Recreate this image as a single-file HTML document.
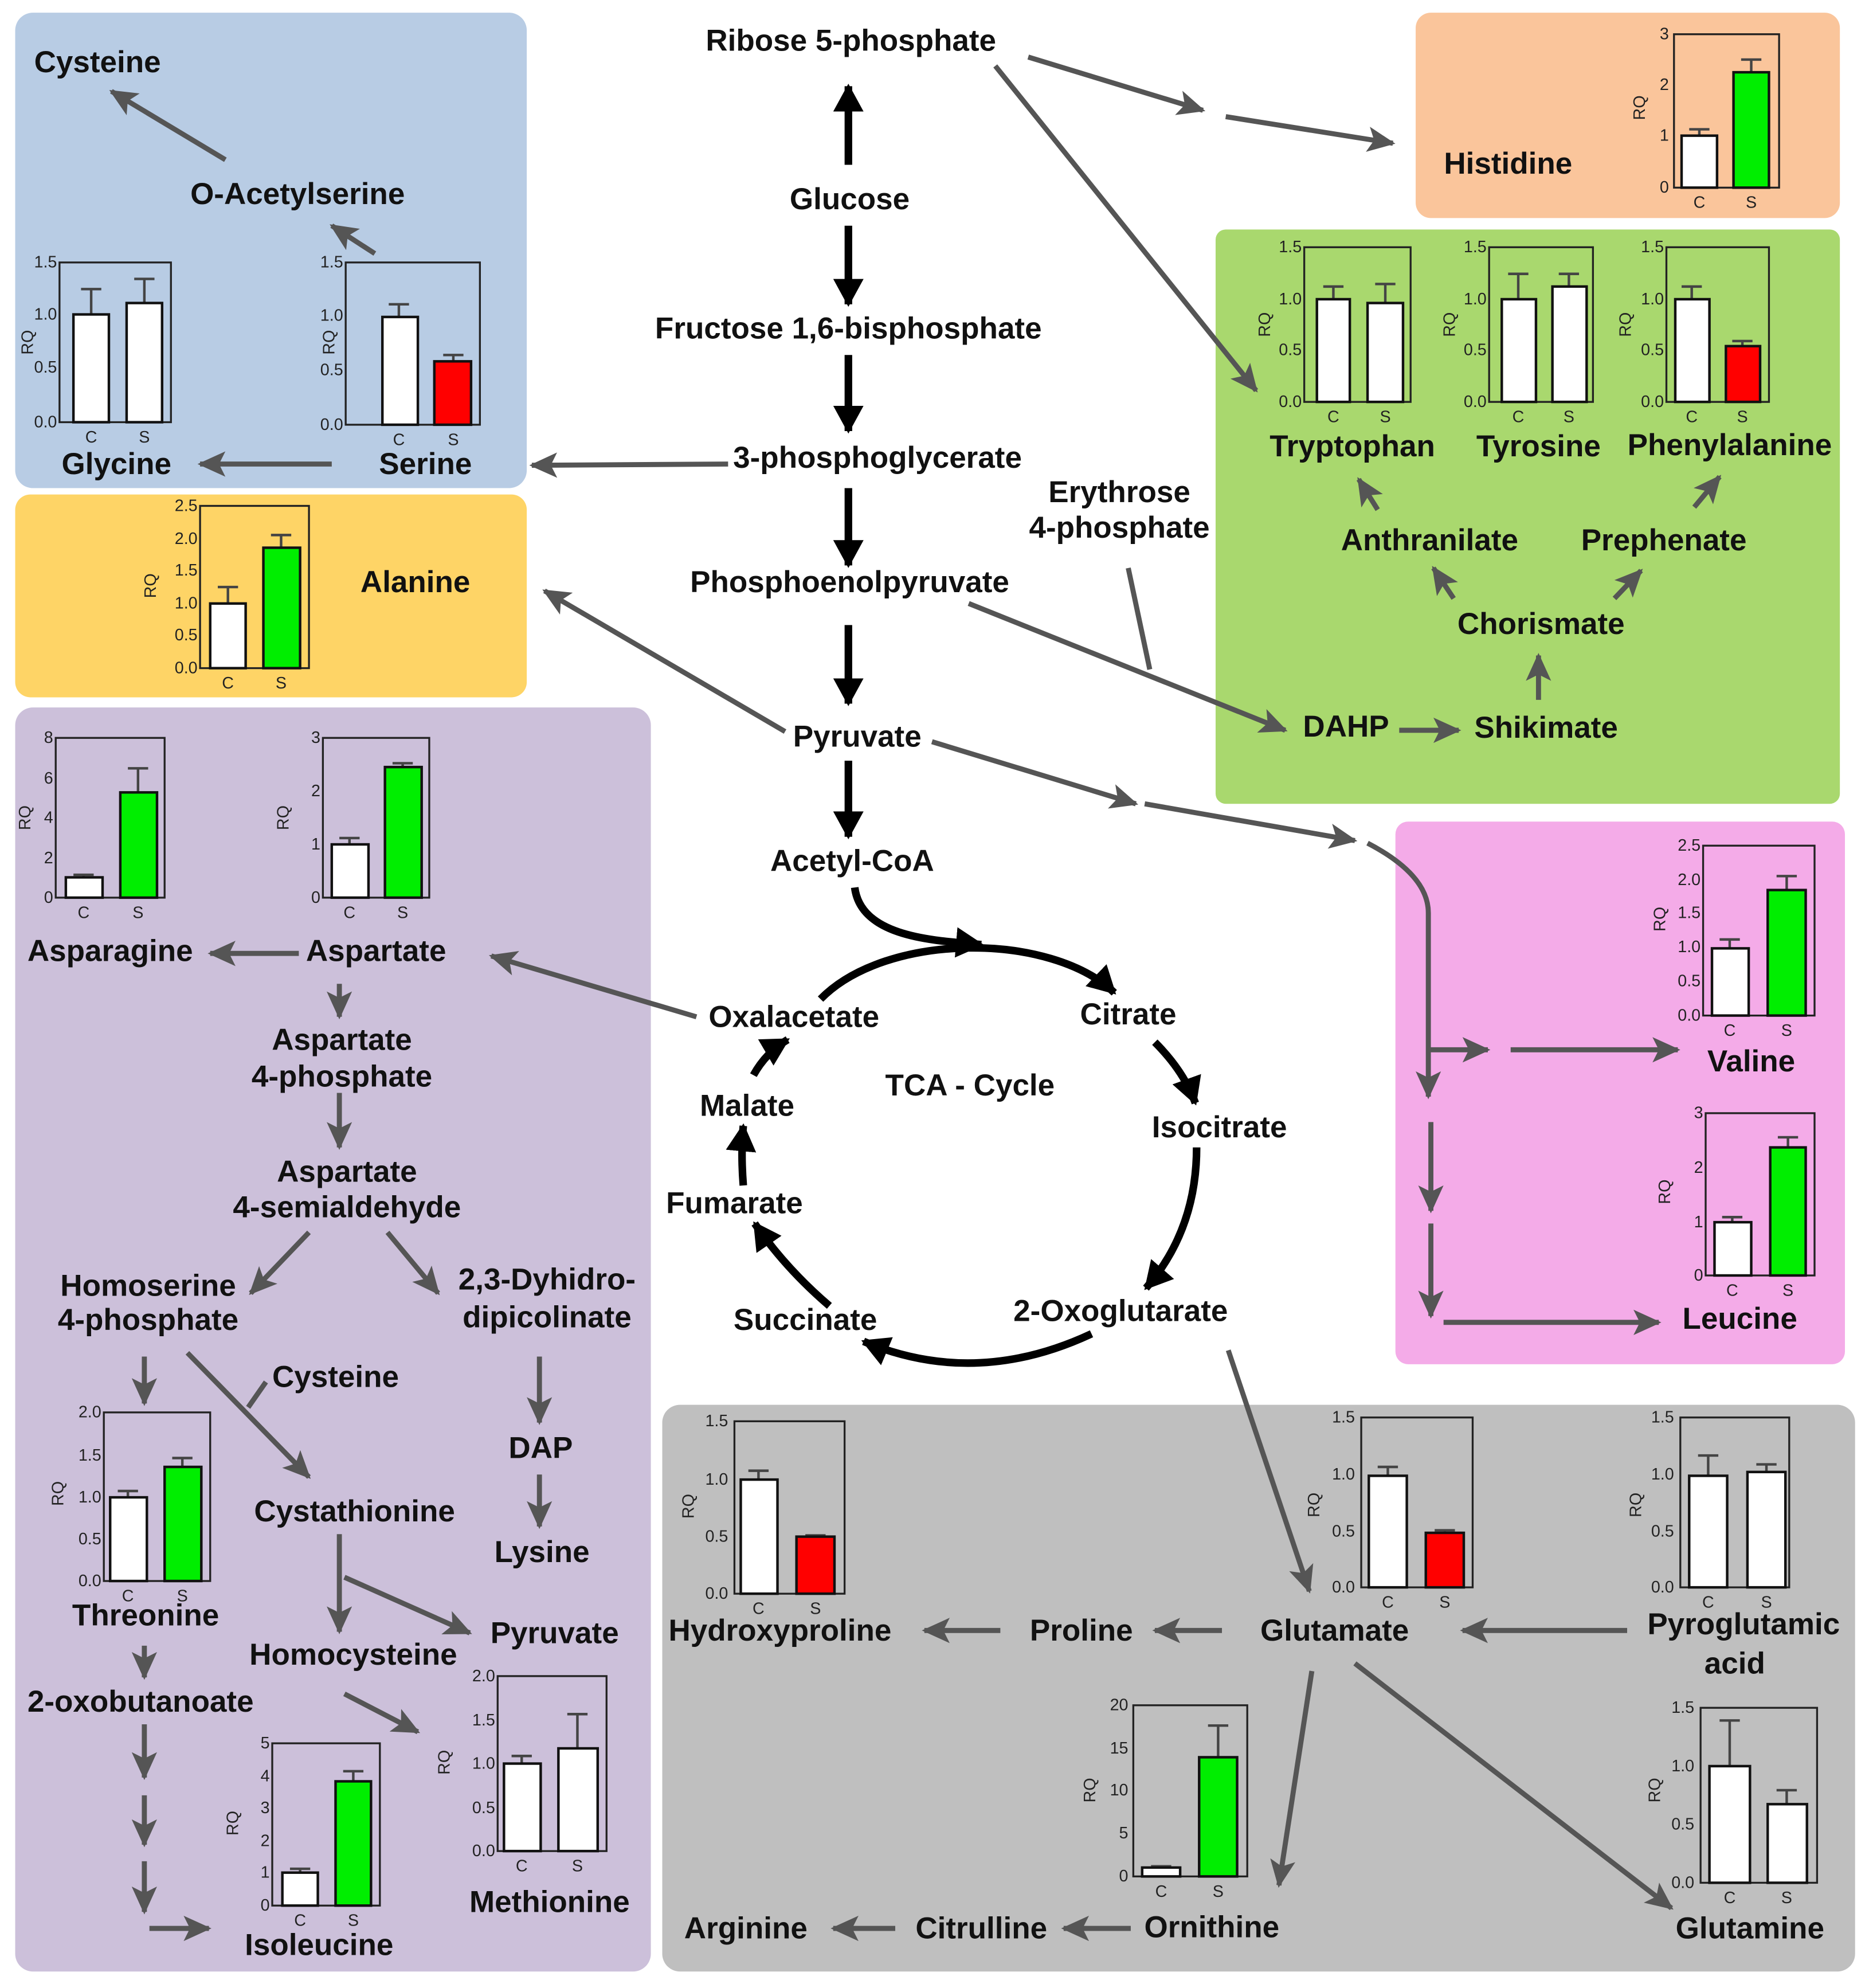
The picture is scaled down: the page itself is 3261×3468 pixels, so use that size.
<!DOCTYPE html>
<html><head><meta charset="utf-8">
<style>
html,body{margin:0;padding:0;background:#fff;}
svg{display:block;}
.t{font-family:"Liberation Sans",Arial,sans-serif;font-weight:bold;font-size:24px;fill:#111;text-anchor:middle;}
.k{font-family:"Liberation Sans",Arial,sans-serif;font-size:13px;fill:#222;text-anchor:end;}
.c{font-family:"Liberation Sans",Arial,sans-serif;font-size:13px;fill:#222;text-anchor:middle;}
.fr{fill:none;stroke:#222;stroke-width:1.5;}
.bw{fill:#fff;stroke:#111;stroke-width:2;}
.bg{fill:#00ee00;stroke:#111;stroke-width:2;}
.br{fill:#ff0000;stroke:#111;stroke-width:2;}
.e{stroke:#444;stroke-width:2;fill:none;}
.g{stroke:#555;stroke-width:4;fill:none;marker-end:url(#ag);}
.gn{stroke:#555;stroke-width:4;fill:none;}
.b{stroke:#000;stroke-width:6;fill:none;marker-end:url(#ab);}
</style></head><body>
<svg width="3261" height="3468" viewBox="0 0 1476 1568" preserveAspectRatio="none" xmlns="http://www.w3.org/2000/svg">
<defs>
<marker id="ag" markerUnits="userSpaceOnUse" markerWidth="24" markerHeight="20" refX="20" refY="10" orient="auto"><path d="M0,0 L22,10 L0,20 L5,10 Z" fill="#555"/></marker>
<marker id="ab" markerUnits="userSpaceOnUse" markerWidth="24" markerHeight="24" refX="20" refY="12" orient="auto"><path d="M0,0 L22,12 L0,24 Z" fill="#000"/></marker>
</defs>
<rect width="1476" height="1568" fill="#fff"/>
<rect x="12" y="10" width="404" height="375" rx="14" fill="#b8cce4"/>
<rect x="12" y="390" width="404" height="160" rx="12" fill="#fed466"/>
<rect x="12" y="558" width="502" height="997" rx="14" fill="#ccc0da"/>
<rect x="1118" y="10" width="335" height="162" rx="12" fill="#fac59b"/>
<rect x="960" y="181" width="493" height="453" rx="8" fill="#a9d86e"/>
<rect x="1102" y="648" width="355" height="428" rx="10" fill="#f4abe8"/>
<rect x="523" y="1108" width="942" height="447" rx="14" fill="#bfbfbf"/>

<text class="t" x="672" y="40">Ribose 5-phosphate</text>
<text class="t" x="671" y="165">Glucose</text>
<text class="t" x="670" y="267">Fructose 1,6-bisphosphate</text>
<text class="t" x="693" y="369">3-phosphoglycerate</text>
<text class="t" x="671" y="467">Phosphoenolpyruvate</text>
<text class="t" x="677" y="589">Pyruvate</text>
<text class="t" x="673" y="687">Acetyl-CoA</text>
<text class="t" x="884" y="396">Erythrose</text>
<text class="t" x="884" y="424">4-phosphate</text>
<text class="t" x="77" y="57">Cysteine</text>
<text class="t" x="235" y="161">O-Acetylserine</text>
<text class="t" x="92" y="374">Glycine</text>
<text class="t" x="336" y="374">Serine</text>
<text class="t" x="1191" y="137">Histidine</text>
<text class="t" x="328" y="467">Alanine</text>
<text class="t" x="1068" y="360">Tryptophan</text>
<text class="t" x="1215" y="360">Tyrosine</text>
<text class="t" x="1366" y="359">Phenylalanine</text>
<text class="t" x="1129" y="434">Anthranilate</text>
<text class="t" x="1314" y="434">Prephenate</text>
<text class="t" x="1217" y="500">Chorismate</text>
<text class="t" x="1063" y="581">DAHP</text>
<text class="t" x="1221" y="582">Shikimate</text>
<text class="t" x="87" y="758">Asparagine</text>
<text class="t" x="297" y="758">Aspartate</text>
<text class="t" x="270" y="828">Aspartate</text>
<text class="t" x="270" y="857">4-phosphate</text>
<text class="t" x="274" y="932">Aspartate</text>
<text class="t" x="274" y="960">4-semialdehyde</text>
<text class="t" x="117" y="1022">Homoserine</text>
<text class="t" x="117" y="1049">4-phosphate</text>
<text class="t" x="432" y="1017">2,3-Dyhidro-</text>
<text class="t" x="432" y="1047">dipicolinate</text>
<text class="t" x="265" y="1094">Cysteine</text>
<text class="t" x="427" y="1150">DAP</text>
<text class="t" x="428" y="1232">Lysine</text>
<text class="t" x="280" y="1200">Cystathionine</text>
<text class="t" x="115" y="1282">Threonine</text>
<text class="t" x="438" y="1296">Pyruvate</text>
<text class="t" x="279" y="1313">Homocysteine</text>
<text class="t" x="111" y="1350">2-oxobutanoate</text>
<text class="t" x="434" y="1508">Methionine</text>
<text class="t" x="252" y="1542">Isoleucine</text>
<text class="t" x="627" y="810">Oxalacetate</text>
<text class="t" x="891" y="808">Citrate</text>
<text class="t" x="766" y="864">TCA - Cycle</text>
<text class="t" x="590" y="880">Malate</text>
<text class="t" x="963" y="897">Isocitrate</text>
<text class="t" x="580" y="957">Fumarate</text>
<text class="t" x="636" y="1049">Succinate</text>
<text class="t" x="885" y="1042">2-Oxoglutarate</text>
<text class="t" x="1383" y="845">Valine</text>
<text class="t" x="1374" y="1048">Leucine</text>
<text class="t" x="616" y="1294">Hydroxyproline</text>
<text class="t" x="854" y="1294">Proline</text>
<text class="t" x="1054" y="1294">Glutamate</text>
<text class="t" x="1377" y="1289">Pyroglutamic</text>
<text class="t" x="1370" y="1320">acid</text>
<text class="t" x="589" y="1529">Arginine</text>
<text class="t" x="775" y="1529">Citrulline</text>
<text class="t" x="957" y="1528">Ornithine</text>
<text class="t" x="1382" y="1529">Glutamine</text>

<path class="b" d="M670,130 V68"/>
<path class="b" d="M670,178 V240"/>
<path class="b" d="M670,280 V340"/>
<path class="b" d="M670,385 V446"/>
<path class="b" d="M670,493 V555"/>
<path class="b" d="M670,600 V660"/>
<path class="b" d="M675,700 C680,740 740,742 775,745"/>
<path class="b" d="M648,788 C700,735 830,735 880,783"/>
<path class="b" d="M912,822 Q935,845 944,870"/>
<path class="b" d="M945,905 Q945,970 905,1016"/>
<path class="b" d="M862,1052 Q770,1095 682,1058"/>
<path class="b" d="M655,1030 Q620,1000 596,965"/>
<path class="b" d="M587,935 Q585,910 587,888"/>
<path class="b" d="M595,848 Q605,830 622,820"/>

<path class="g" d="M178,126 L88,72"/>
<path class="g" d="M296,200 L262,178"/>
<path class="g" d="M262,366 L158,366"/>
<path class="g" d="M575,366 L420,367"/>
<path class="g" d="M812,45 L950,87"/>
<path class="g" d="M968,92 L1100,113"/>
<path class="g" d="M786,52 L992,308"/>
<path class="g" d="M765,476 L1015,576"/>
<path class="gn" d="M891,448 L908,528"/>
<path class="g" d="M620,577 L430,466"/>
<path class="g" d="M736,585 L897,634"/>
<path class="g" d="M904,634 L1070,663"/>
<path class="g" d="M1080,665 Q1128,690 1128,720 V865"/>
<path class="g" d="M1128,828 H1175"/>
<path class="g" d="M1193,828 H1325"/>
<path class="g" d="M1130,885 V955"/>
<path class="g" d="M1130,965 V1038"/>
<path class="g" d="M1140,1043 H1310"/>
<path class="g" d="M1105,576 H1152"/>
<path class="g" d="M1215,552 V517"/>
<path class="g" d="M1148,472 L1132,448"/>
<path class="g" d="M1275,472 L1296,450"/>
<path class="g" d="M1088,402 L1073,378"/>
<path class="g" d="M1338,400 L1358,376"/>
<path class="g" d="M550,802 L388,754"/>
<path class="g" d="M236,752 H166"/>
<path class="g" d="M268,776 V802"/>
<path class="g" d="M268,862 V905"/>
<path class="g" d="M244,972 L198,1020"/>
<path class="g" d="M306,972 L346,1020"/>
<path class="g" d="M114,1070 V1107"/>
<path class="g" d="M148,1067 L244,1165"/>
<path class="gn" d="M210,1090 L196,1110"/>
<path class="g" d="M426,1070 V1122"/>
<path class="g" d="M426,1163 V1204"/>
<path class="g" d="M268,1210 V1287"/>
<path class="g" d="M272,1244 L371,1288"/>
<path class="g" d="M272,1336 L330,1366"/>
<path class="g" d="M114,1298 V1323"/>
<path class="g" d="M114,1360 V1402"/>
<path class="g" d="M114,1416 V1455"/>
<path class="g" d="M114,1468 V1508"/>
<path class="g" d="M118,1521 H165"/>
<path class="g" d="M970,1065 L1034,1255"/>
<path class="g" d="M1285,1286 H1155"/>
<path class="g" d="M965,1286 H912"/>
<path class="g" d="M790,1286 H730"/>
<path class="g" d="M1036,1318 L1010,1487"/>
<path class="g" d="M1070,1312 L1320,1505"/>
<path class="g" d="M893,1521 H840"/>
<path class="g" d="M707,1521 H658"/>

<g><rect class="fr" x="47" y="207" width="88" height="126"/>
<text class="k" x="45" y="337">0.0</text><text class="k" x="45" y="294">0.5</text><text class="k" x="45" y="252">1.0</text><text class="k" x="45" y="211">1.5</text>
<text class="c" transform="translate(26,270) rotate(-90)">RQ</text>
<path class="e" d="M72,248 V228 M64,228 H80 M114,239 V220 M106,220 H122"/>
<rect class="bw" x="58" y="248" width="28" height="85"/><rect class="bw" x="100" y="239" width="28" height="94"/>
<text class="c" x="72" y="349">C</text><text class="c" x="114" y="349">S</text></g>
<g><rect class="fr" x="273" y="207" width="106" height="128"/>
<text class="k" x="271" y="339">0.0</text><text class="k" x="271" y="296">0.5</text><text class="k" x="271" y="253">1.0</text><text class="k" x="271" y="211">1.5</text>
<text class="c" transform="translate(264,270) rotate(-90)">RQ</text>
<path class="e" d="M315,250 V240 M307,240 H323 M358,285 V280 M350,280 H366"/>
<rect class="bw" x="302" y="250" width="28" height="85"/><rect class="br" x="343" y="285" width="29" height="50"/>
<text class="c" x="315" y="351">C</text><text class="c" x="358" y="351">S</text></g>
<g><rect class="fr" x="1322" y="27" width="83" height="121"/>
<text class="k" x="1318" y="152">0</text><text class="k" x="1318" y="111">1</text><text class="k" x="1318" y="71">2</text><text class="k" x="1318" y="31">3</text>
<text class="c" transform="translate(1299,85) rotate(-90)">RQ</text>
<path class="e" d="M1342,107 V102 M1334,102 H1350 M1383,57 V47 M1375,47 H1391"/>
<rect class="bw" x="1328" y="107" width="28" height="41"/><rect class="bg" x="1369" y="57" width="28" height="91"/>
<text class="c" x="1342" y="164">C</text><text class="c" x="1383" y="164">S</text></g>
<g><rect class="fr" x="1030" y="195" width="84" height="122"/>
<text class="k" x="1028" y="321">0.0</text><text class="k" x="1028" y="280">0.5</text><text class="k" x="1028" y="240">1.0</text><text class="k" x="1028" y="199">1.5</text>
<text class="c" transform="translate(1003,256) rotate(-90)">RQ</text>
<path class="e" d="M1053,236 V226 M1045,226 H1061 M1094,239 V224 M1086,224 H1102"/>
<rect class="bw" x="1040" y="236" width="26" height="81"/><rect class="bw" x="1080" y="239" width="28" height="78"/>
<text class="c" x="1053" y="333">C</text><text class="c" x="1094" y="333">S</text></g>
<g><rect class="fr" x="1176" y="195" width="82" height="122"/>
<text class="k" x="1174" y="321">0.0</text><text class="k" x="1174" y="280">0.5</text><text class="k" x="1174" y="240">1.0</text><text class="k" x="1174" y="199">1.5</text>
<text class="c" transform="translate(1149,256) rotate(-90)">RQ</text>
<path class="e" d="M1199,236 V216 M1191,216 H1207 M1239,226 V216 M1231,216 H1247"/>
<rect class="bw" x="1186" y="236" width="27" height="81"/><rect class="bw" x="1226" y="226" width="27" height="91"/>
<text class="c" x="1199" y="333">C</text><text class="c" x="1239" y="333">S</text></g>
<g><rect class="fr" x="1316" y="195" width="81" height="122"/>
<text class="k" x="1314" y="321">0.0</text><text class="k" x="1314" y="280">0.5</text><text class="k" x="1314" y="240">1.0</text><text class="k" x="1314" y="199">1.5</text>
<text class="c" transform="translate(1288,256) rotate(-90)">RQ</text>
<path class="e" d="M1336,236 V226 M1328,226 H1344 M1376,273 V269 M1368,269 H1384"/>
<rect class="bw" x="1323" y="236" width="27" height="81"/><rect class="br" x="1363" y="273" width="27" height="44"/>
<text class="c" x="1336" y="333">C</text><text class="c" x="1376" y="333">S</text></g>
<g><rect class="fr" x="158" y="399" width="86" height="128"/>
<text class="k" x="156" y="531">0.0</text><text class="k" x="156" y="505">0.5</text><text class="k" x="156" y="480">1.0</text><text class="k" x="156" y="454">1.5</text><text class="k" x="156" y="429">2.0</text><text class="k" x="156" y="403">2.5</text>
<text class="c" transform="translate(123,462) rotate(-90)">RQ</text>
<path class="e" d="M180,476 V463 M172,463 H188 M222,432 V422 M214,422 H230"/>
<rect class="bw" x="166" y="476" width="28" height="51"/><rect class="bg" x="208" y="432" width="29" height="95"/>
<text class="c" x="180" y="543">C</text><text class="c" x="222" y="543">S</text></g>
<g><rect class="fr" x="44" y="582" width="86" height="126"/>
<text class="k" x="42" y="712">0</text><text class="k" x="42" y="681">2</text><text class="k" x="42" y="649">4</text><text class="k" x="42" y="618">6</text><text class="k" x="42" y="586">8</text>
<text class="c" transform="translate(24,645) rotate(-90)">RQ</text>
<path class="e" d="M66,692 V690 M58,690 H74 M109,625 V606 M101,606 H117"/>
<rect class="bw" x="52" y="692" width="29" height="16"/><rect class="bg" x="95" y="625" width="29" height="83"/>
<text class="c" x="66" y="724">C</text><text class="c" x="109" y="724">S</text></g>
<g><rect class="fr" x="255" y="582" width="84" height="126"/>
<text class="k" x="253" y="712">0</text><text class="k" x="253" y="670">1</text><text class="k" x="253" y="628">2</text><text class="k" x="253" y="586">3</text>
<text class="c" transform="translate(228,645) rotate(-90)">RQ</text>
<path class="e" d="M276,666 V661 M268,661 H284 M318,605 V602 M310,602 H326"/>
<rect class="bw" x="262" y="666" width="29" height="42"/><rect class="bg" x="304" y="605" width="29" height="103"/>
<text class="c" x="276" y="724">C</text><text class="c" x="318" y="724">S</text></g>
<g><rect class="fr" x="1345" y="667" width="88" height="134"/>
<text class="k" x="1343" y="805">0.0</text><text class="k" x="1343" y="778">0.5</text><text class="k" x="1343" y="751">1.0</text><text class="k" x="1343" y="724">1.5</text><text class="k" x="1343" y="698">2.0</text><text class="k" x="1343" y="671">2.5</text>
<text class="c" transform="translate(1315,725) rotate(-90)">RQ</text>
<path class="e" d="M1366,748 V741 M1358,741 H1374 M1411,702 V691 M1403,691 H1419"/>
<rect class="bw" x="1352" y="748" width="29" height="53"/><rect class="bg" x="1396" y="702" width="30" height="99"/>
<text class="c" x="1366" y="817">C</text><text class="c" x="1411" y="817">S</text></g>
<g><rect class="fr" x="1347" y="878" width="86" height="128"/>
<text class="k" x="1345" y="1010">0</text><text class="k" x="1345" y="968">1</text><text class="k" x="1345" y="925">2</text><text class="k" x="1345" y="882">3</text>
<text class="c" transform="translate(1319,940) rotate(-90)">RQ</text>
<path class="e" d="M1368,964 V960 M1360,960 H1376 M1412,905 V897 M1404,897 H1420"/>
<rect class="bw" x="1354" y="964" width="29" height="42"/><rect class="bg" x="1398" y="905" width="28" height="101"/>
<text class="c" x="1368" y="1022">C</text><text class="c" x="1412" y="1022">S</text></g>
<g><rect class="fr" x="82" y="1114" width="84" height="133"/>
<text class="k" x="80" y="1251">0.0</text><text class="k" x="80" y="1218">0.5</text><text class="k" x="80" y="1185">1.0</text><text class="k" x="80" y="1152">1.5</text><text class="k" x="80" y="1118">2.0</text>
<text class="c" transform="translate(50,1178) rotate(-90)">RQ</text>
<path class="e" d="M101,1181 V1176 M93,1176 H109 M144,1157 V1150 M136,1150 H152"/>
<rect class="bw" x="87" y="1181" width="29" height="66"/><rect class="bg" x="130" y="1157" width="29" height="90"/>
<text class="c" x="101" y="1263">C</text><text class="c" x="144" y="1263">S</text></g>
<g><rect class="fr" x="215" y="1375" width="85" height="128"/>
<text class="k" x="213" y="1507">0</text><text class="k" x="213" y="1481">1</text><text class="k" x="213" y="1456">2</text><text class="k" x="213" y="1430">3</text><text class="k" x="213" y="1405">4</text><text class="k" x="213" y="1379">5</text>
<text class="c" transform="translate(188,1438) rotate(-90)">RQ</text>
<path class="e" d="M237,1477 V1474 M229,1474 H245 M279,1405 V1397 M271,1397 H287"/>
<rect class="bw" x="223" y="1477" width="28" height="26"/><rect class="bg" x="265" y="1405" width="28" height="98"/>
<text class="c" x="237" y="1519">C</text><text class="c" x="279" y="1519">S</text></g>
<g><rect class="fr" x="393" y="1322" width="86" height="138"/>
<text class="k" x="391" y="1464">0.0</text><text class="k" x="391" y="1430">0.5</text><text class="k" x="391" y="1395">1.0</text><text class="k" x="391" y="1361">1.5</text><text class="k" x="391" y="1326">2.0</text>
<text class="c" transform="translate(355,1390) rotate(-90)">RQ</text>
<path class="e" d="M412,1391 V1385 M404,1385 H420 M456,1379 V1352 M448,1352 H464"/>
<rect class="bw" x="398" y="1391" width="29" height="69"/><rect class="bw" x="441" y="1379" width="31" height="81"/>
<text class="c" x="412" y="1476">C</text><text class="c" x="456" y="1476">S</text></g>
<g><rect class="fr" x="580" y="1121" width="87" height="136"/>
<text class="k" x="575" y="1261">0.0</text><text class="k" x="575" y="1216">0.5</text><text class="k" x="575" y="1171">1.0</text><text class="k" x="575" y="1125">1.5</text>
<text class="c" transform="translate(548,1188) rotate(-90)">RQ</text>
<path class="e" d="M599,1167 V1160 M591,1160 H607 M644,1212 V1211 M636,1211 H652"/>
<rect class="bw" x="585" y="1167" width="29" height="90"/><rect class="br" x="629" y="1212" width="30" height="45"/>
<text class="c" x="599" y="1273">C</text><text class="c" x="644" y="1273">S</text></g>
<g><rect class="fr" x="1075" y="1118" width="88" height="134"/>
<text class="k" x="1070" y="1256">0.0</text><text class="k" x="1070" y="1212">0.5</text><text class="k" x="1070" y="1167">1.0</text><text class="k" x="1070" y="1122">1.5</text>
<text class="c" transform="translate(1042,1187) rotate(-90)">RQ</text>
<path class="e" d="M1096,1164 V1157 M1088,1157 H1104 M1141,1209 V1207 M1133,1207 H1149"/>
<rect class="bw" x="1081" y="1164" width="30" height="88"/><rect class="br" x="1126" y="1209" width="30" height="43"/>
<text class="c" x="1096" y="1268">C</text><text class="c" x="1141" y="1268">S</text></g>
<g><rect class="fr" x="1327" y="1118" width="86" height="134"/>
<text class="k" x="1322" y="1256">0.0</text><text class="k" x="1322" y="1212">0.5</text><text class="k" x="1322" y="1167">1.0</text><text class="k" x="1322" y="1122">1.5</text>
<text class="c" transform="translate(1296,1187) rotate(-90)">RQ</text>
<path class="e" d="M1349,1164 V1148 M1341,1148 H1357 M1395,1161 V1155 M1387,1155 H1403"/>
<rect class="bw" x="1334" y="1164" width="30" height="88"/><rect class="bw" x="1380" y="1161" width="30" height="91"/>
<text class="c" x="1349" y="1268">C</text><text class="c" x="1395" y="1268">S</text></g>
<g><rect class="fr" x="895" y="1345" width="90" height="135"/>
<text class="k" x="891" y="1484">0</text><text class="k" x="891" y="1450">5</text><text class="k" x="891" y="1416">10</text><text class="k" x="891" y="1383">15</text><text class="k" x="891" y="1349">20</text>
<text class="c" transform="translate(865,1412) rotate(-90)">RQ</text>
<path class="e" d="M917,1473 V1472 M909,1472 H925 M962,1386 V1361 M954,1361 H970"/>
<rect class="bw" x="902" y="1473" width="30" height="7"/><rect class="bg" x="947" y="1386" width="30" height="94"/>
<text class="c" x="917" y="1496">C</text><text class="c" x="962" y="1496">S</text></g>
<g><rect class="fr" x="1343" y="1347" width="92" height="138"/>
<text class="k" x="1338" y="1489">0.0</text><text class="k" x="1338" y="1443">0.5</text><text class="k" x="1338" y="1397">1.0</text><text class="k" x="1338" y="1351">1.5</text>
<text class="c" transform="translate(1311,1412) rotate(-90)">RQ</text>
<path class="e" d="M1366,1393 V1357 M1358,1357 H1374 M1411,1423 V1412 M1403,1412 H1419"/>
<rect class="bw" x="1350" y="1393" width="32" height="92"/><rect class="bw" x="1396" y="1423" width="31" height="62"/>
<text class="c" x="1366" y="1501">C</text><text class="c" x="1411" y="1501">S</text></g>
</svg>
</body></html>
